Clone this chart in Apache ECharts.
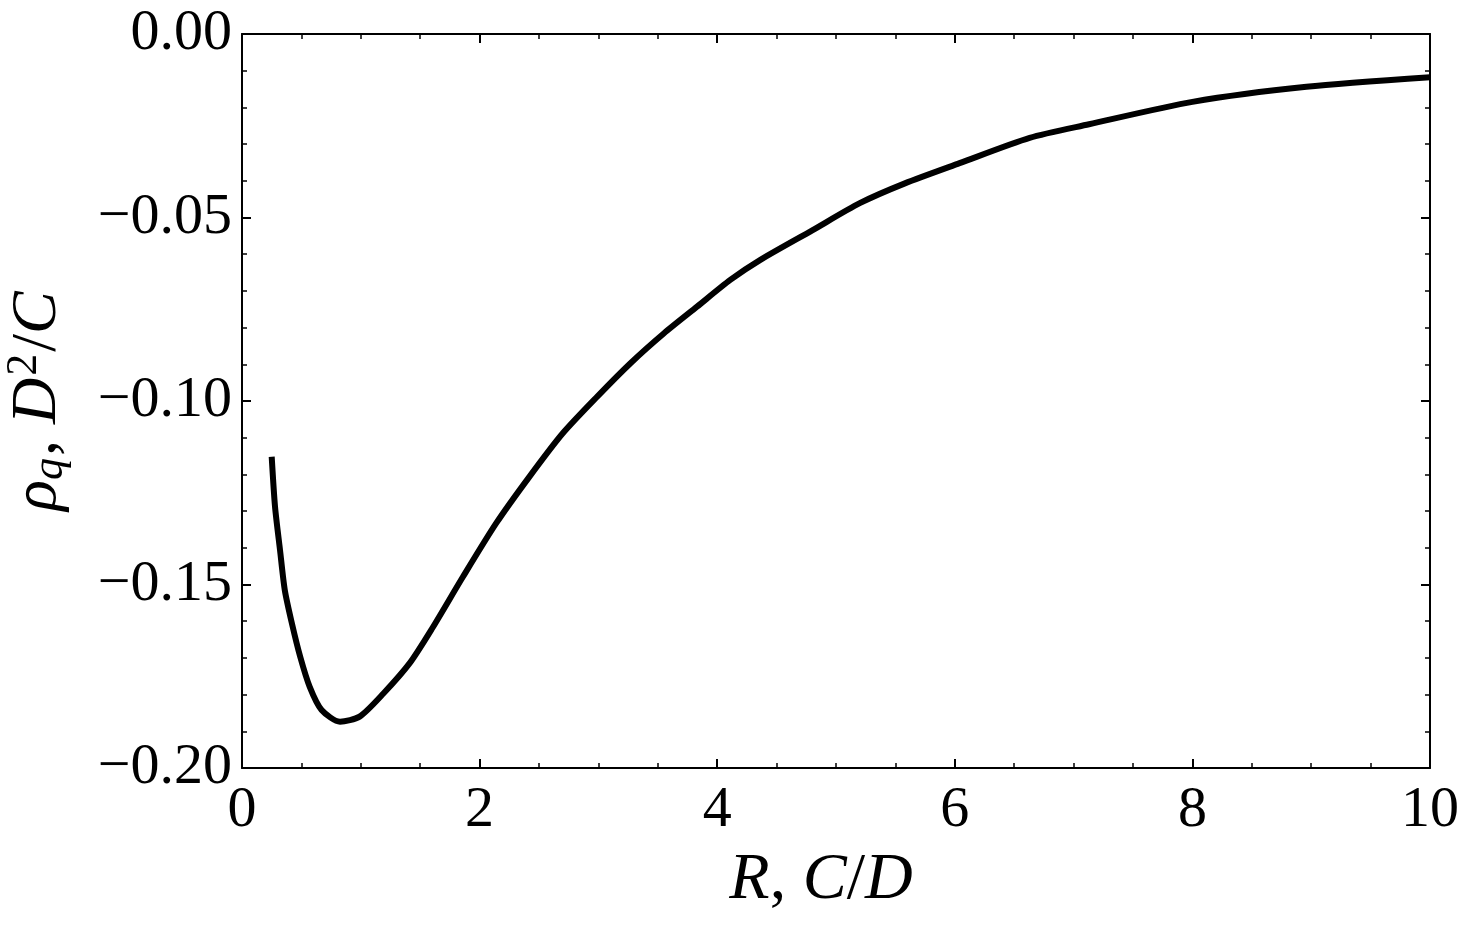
<!DOCTYPE html>
<html>
<head>
<meta charset="utf-8">
<script src="https://cdn.jsdelivr.net/npm/echarts@6/dist/echarts.min.js"></script>
<style>
  html, body { margin: 0; padding: 0; background: #fff; }
  #chart { width: 1463px; height: 930px; }
</style>
</head>
<body>
<div id="chart"></div>
<script>
// curve: R (C/D) and rho_q (D^2/C)
const rValues = [0.25, 0.278, 0.32, 0.36, 0.42, 0.49, 0.57, 0.67, 0.825, 0.99, 1.19, 1.41, 1.60, 1.86, 2.14, 2.42, 2.70, 2.99, 3.27, 3.55, 3.83, 4.11, 4.36, 4.80, 5.20, 5.58, 6.04, 6.63, 7.13, 8.00, 8.96, 10.0];
const rhoValues = [-0.1152, -0.1288, -0.1406, -0.1515, -0.1606, -0.1697, -0.1779, -0.1842, -0.1874, -0.1860, -0.1797, -0.1715, -0.1620, -0.1479, -0.1333, -0.1206, -0.1088, -0.0988, -0.0897, -0.0816, -0.0743, -0.0670, -0.0616, -0.0535, -0.0461, -0.0407, -0.0352, -0.0283, -0.0246, -0.0185, -0.0144, -0.0118];

const xTicks = [0, 2, 4, 6, 8, 10];
const yTicks = [-0.20, -0.15, -0.10, -0.05, 0.00];

const font = 'Liberation Serif';
const chart = echarts.init(document.getElementById('chart'));

const points = rValues.map((r, i) => [r, rhoValues[i]]);

const baseAxis = {
    axisLine: { show: true, onZero: false, lineStyle: { color: '#000', width: 2 } },
    axisTick: { show: true, inside: true, length: 9, lineStyle: { color: '#000', width: 2 } },
    minorTick: { show: true, length: 5, lineStyle: { color: '#000', width: 1.5 } },
    splitLine: { show: false },
};

const option = {
    animation: false,
    backgroundColor: '#fff',
    grid: { left: 242, right: 33, top: 34, bottom: 162, outerBoundsMode: 'none' },
    xAxis: [
        {
            ...baseAxis,
            type: 'value',
            min: xTicks[0],
            max: xTicks[xTicks.length - 1],
            interval: 2,
            minorTick: { ...baseAxis.minorTick, splitNumber: 4 },
            axisLabel: {
                color: '#000', fontFamily: font, fontSize: 58, margin: 14,
                formatter: (v) => String(v),
            },
            name: '{i|R}{n|, }{i|C}{n|/}{i|D}',
            nameLocation: 'middle',
            nameGap: 80,
            nameTextStyle: {
                padding: [0, 30, 0, 0],
                rich: {
                    i: { fontFamily: font, fontStyle: 'italic', fontSize: 66, color: '#000' },
                    n: { fontFamily: font, fontSize: 66, color: '#000' },
                },
            },
        },
        {
            ...baseAxis,
            type: 'value',
            position: 'top',
            min: 0, max: 10, interval: 2,
            minorTick: { ...baseAxis.minorTick, splitNumber: 4 },
            axisLabel: { show: false },
        },
    ],
    yAxis: [
        {
            ...baseAxis,
            type: 'value',
            min: yTicks[0],
            max: yTicks[yTicks.length - 1],
            interval: 0.05,
            minorTick: { ...baseAxis.minorTick, splitNumber: 5 },
            axisLabel: {
                color: '#000', fontFamily: font, fontSize: 58, margin: 10,
                formatter: (v) => (v < 0 ? '\u2212' : '') + Math.abs(v).toFixed(2),
            },
            name: '{i|\u03c1}{sub|q}{n|, }{i|D}{sup|2}{n|/}{i|C}',
            nameLocation: 'middle',
            nameRotate: 90,
            nameGap: 168,
            nameTextStyle: {
                rich: {
                    i: { fontFamily: font, fontStyle: 'italic', fontSize: 64, color: '#000' },
                    n: { fontFamily: font, fontSize: 64, color: '#000' },
                    sub: { fontFamily: font, fontStyle: 'italic', fontSize: 44, color: '#000', padding: [24, 2, 0, 0] },
                    sup: { fontFamily: font, fontSize: 44, color: '#000', padding: [0, 2, 28, 2] },
                },
            },
        },
        {
            ...baseAxis,
            type: 'value',
            position: 'right',
            min: -0.2, max: 0, interval: 0.05,
            minorTick: { ...baseAxis.minorTick, splitNumber: 5 },
            axisLabel: { show: false },
        },
    ],
    series: [
        {
            type: 'line',
            data: points,
            smooth: 0.25,
            showSymbol: false,
            lineStyle: { color: '#000', width: 6 },
        },
    ],
};

chart.setOption(option);
</script>
</body>
</html>
